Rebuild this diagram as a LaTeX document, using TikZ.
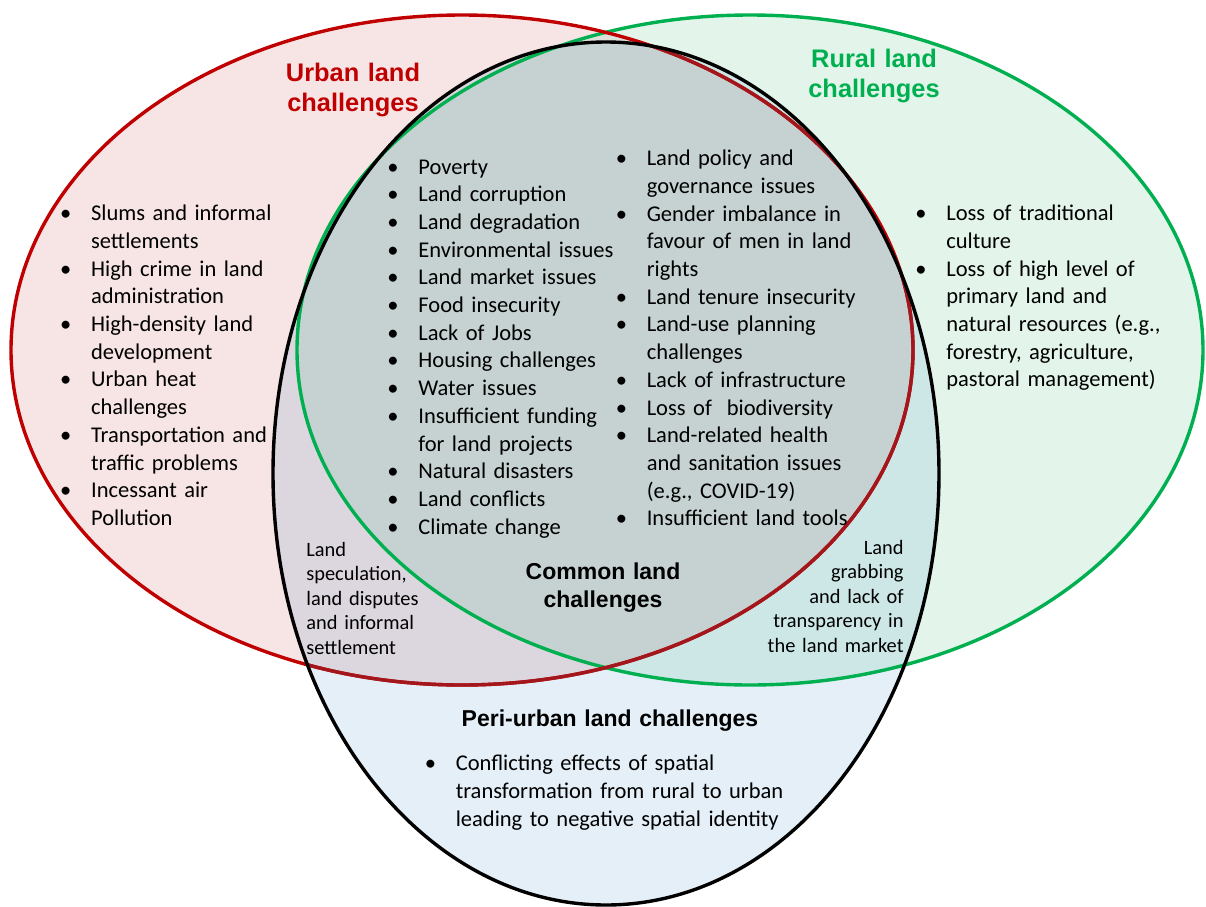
\documentclass[tikz,border=0pt]{standalone}
\usepackage{fontspec}
\setmainfont{Carlito}
\newfontfamily\headfont{Liberation Sans}
\usetikzlibrary{positioning}
\definecolor{urbanred}{HTML}{C00000}
\definecolor{urbanredin}{HTML}{A3171C}
\definecolor{ruralgreen}{HTML}{00B050}
\definecolor{urbanfill}{HTML}{F7E4E4}
\definecolor{ruralfill}{HTML}{E3F4EA}
\definecolor{perifill}{HTML}{E4EFF8}
\definecolor{urbanruralfill}{HTML}{DDE2DA}
\definecolor{urbanperifill}{HTML}{DCD6DE}
\definecolor{ruralperifill}{HTML}{CDE7E7}
\definecolor{commonfill}{HTML}{C6D1D1}
\newcommand{\itm}[1]{\hangindent=15.5pt\hangafter=1\noindent\makebox[15.5pt][l]{\textbullet}#1\par}
\tikzset{
  urban path/.style = {insert path={(462,350) ellipse [x radius=451, y radius=335]}},
  rural path/.style = {insert path={(750,350) ellipse [x radius=453, y radius=335]}},
  peri path/.style  = {insert path={(606,473.5) ellipse [x radius=333, y radius=431.5]}},
  ring/.style = {line width=1.7pt},
  itemlist/.style = {font=\fontsize{11.25}{13.85}\selectfont, text width=#1, align=left,
                     inner sep=0pt, anchor=base west},
  note/.style = {font=\fontsize{10.2}{12.25}\selectfont, text width=80pt, inner sep=0pt},
  bighead/.style = {font=\headfont\bfseries\fontsize{12.7}{15}\selectfont, text width=90pt,
                    align=center, inner sep=0pt, anchor=base},
  smallhead/.style = {font=\headfont\bfseries\fontsize{11.5}{14}\selectfont, text width=170pt,
                      align=center, inner sep=0pt, anchor=base},
}

\begin{document}
\begin{tikzpicture}[x=0.5pt, y=-0.5pt]
  \useasboundingbox (0,0) rectangle (1206,906);
  \fill[white] (0,0) rectangle (1206,906);

  \fill[urbanfill, urban path];
  \fill[ruralfill, rural path];
  \fill[perifill, peri path];
  \begin{scope}
    \clip[urban path];
    \fill[urbanruralfill, rural path];
    \fill[urbanperifill, peri path];
  \end{scope}
  \begin{scope}
    \clip[rural path];
    \fill[ruralperifill, peri path];
  \end{scope}
  \begin{scope}
    \clip[urban path];
    \clip[rural path];
    \fill[commonfill, peri path];
  \end{scope}

  \draw[ring, ruralgreen, rural path];
  \draw[ring, urbanred, urban path];
  \begin{scope}
    \clip[peri path];
    \draw[ring, urbanredin, urban path];
  \end{scope}
  \draw[ring, black, peri path];

  \node[bighead, urbanred] (urbanhead) at (353,81) {Urban land\\challenges};
  \node[bighead, ruralgreen] (ruralhead) at (874,67.7) {Rural land\\challenges};
  \node[smallhead] (commonhead) at (603,579) {Common land\\challenges};
  \node[smallhead] (perihead) at (610,726.7) {Peri-urban land challenges};

  \node[itemlist=150pt] (urbanlist) at (59.7,220.7) {%
    \itm{Slums and informal\newline settlements}
    \itm{High crime in land\newline administration}
    \itm{High-density land\newline development}
    \itm{Urban heat\newline challenges}
    \itm{Transportation and\newline traffic problems}
    \itm{Incessant air\newline Pollution}};

  \node[itemlist=150pt] (commonleft) at (387,174) {%
    \itm{Poverty}
    \itm{Land corruption}
    \itm{Land degradation}
    \itm{Environmental issues}
    \itm{Land market issues}
    \itm{Food insecurity}
    \itm{Lack of Jobs}
    \itm{Housing challenges}
    \itm{Water issues}
    \itm{Insufficient funding\newline for land projects}
    \itm{Natural disasters}
    \itm{Land conflicts}
    \itm{Climate change}};

  \node[itemlist=150pt] (commonright) at (615.4,165.7) {%
    \itm{Land policy and\newline governance issues}
    \itm{Gender imbalance in\newline favour of men in land\newline rights}
    \itm{Land tenure insecurity}
    \itm{Land-use planning\newline challenges}
    \itm{Lack of infrastructure}
    \itm{Loss of\ \ biodiversity}
    \itm{Land-related health\newline and sanitation issues\newline (e.g., COVID-19)}
    \itm{Insufficient land tools}};

  \node[itemlist=150pt] (rurallist) at (915,220.7) {%
    \itm{Loss of traditional\newline culture}
    \itm{Loss of high level of\newline primary land and\newline natural resources (e.g.,\newline
         forestry, agriculture,\newline pastoral management)}};

  \node[itemlist=200pt] (perilist) at (424.4,770.7) {%
    \itm{Conflicting effects of spatial\newline transformation from rural to urban\newline
         leading to negative spatial identity}};

  \node[note, align=left, anchor=base west] (urbanperinote) at (306,556)
    {Land\\speculation,\\land disputes\\and informal\\settlement};
  \node[note, align=right, anchor=base east] (ruralperinote) at (904,554)
    {Land\\grabbing\\and lack of\\transparency in\\the land market};
\end{tikzpicture}
\end{document}
